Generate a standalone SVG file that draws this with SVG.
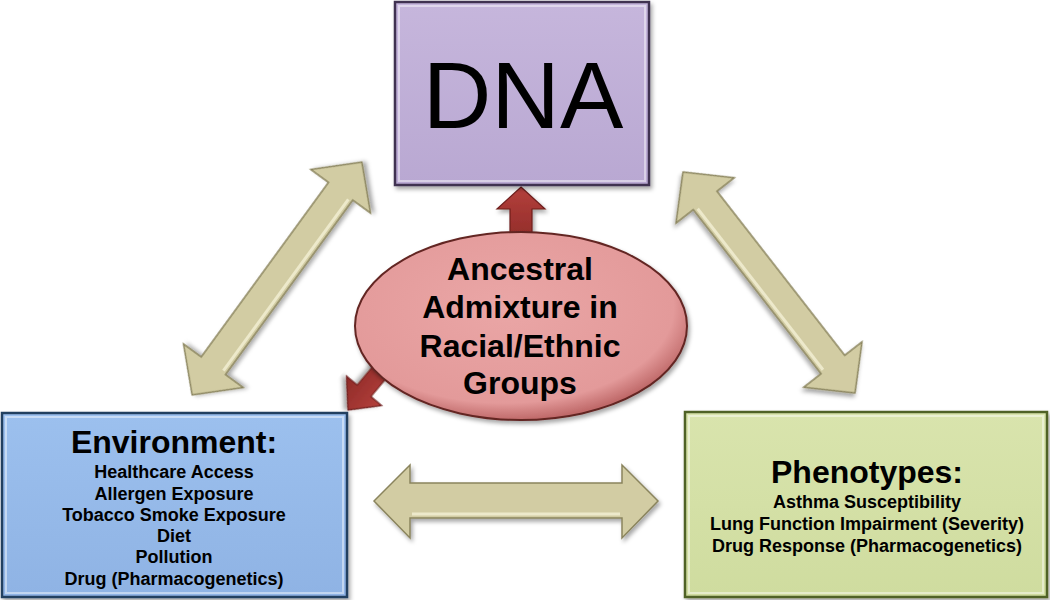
<svg xmlns="http://www.w3.org/2000/svg" width="1050" height="600" viewBox="0 0 1050 600">
<defs>
<linearGradient id="gDna" x1="0" y1="0" x2="0" y2="1"><stop offset="0" stop-color="#c6b6dc"/><stop offset="1" stop-color="#b9a8d2"/></linearGradient>
<linearGradient id="gEnv" x1="0" y1="0" x2="0" y2="1"><stop offset="0" stop-color="#9cc0ee"/><stop offset="1" stop-color="#8fb3e4"/></linearGradient>
<linearGradient id="gPhe" x1="0" y1="0" x2="0" y2="1"><stop offset="0" stop-color="#d9e4ad"/><stop offset="1" stop-color="#cfdc9f"/></linearGradient>
<radialGradient id="gEll" cx="0.45" cy="0.4" r="0.6"><stop offset="0" stop-color="#eaa6a6"/><stop offset="0.85" stop-color="#e39a9a"/><stop offset="1" stop-color="#c06a6a"/></radialGradient>
<linearGradient id="gRed" x1="0" y1="0" x2="0" y2="1"><stop offset="0" stop-color="#b4403c"/><stop offset="1" stop-color="#8e2a27"/></linearGradient>
<filter id="sh" x="-10%" y="-10%" width="120%" height="120%"><feDropShadow dx="2" dy="3" stdDeviation="2" flood-color="#000" flood-opacity="0.35"/></filter>
</defs>
<style>
.box{stroke-width:2.5}
.bev{fill:none;stroke:#ffffff;stroke-opacity:0.45;stroke-width:2}
.beige{fill:#d2cca3;stroke:#8a845d;stroke-width:1.5;stroke-linejoin:miter}
.hl{stroke:#f4f1d6;stroke-width:3;opacity:0.8}
.red{fill:url(#gRed);stroke:#6e1e1c;stroke-width:1.2}
.t{font-family:"Liberation Sans",Arial,sans-serif;fill:#000;text-anchor:middle}
.b{font-weight:bold}
</style>

<g id="connectors">
<g id="arrow-env-dna" transform="translate(277,278.5) rotate(-53.9)">
<polygon class="beige" filter="url(#sh)" points="-144,0 -108,-37 -108,-15 108,-15 108,-37 144,0 108,37 108,15 -108,15 -108,37"/>
<line class="hl" x1="-106" y1="11" x2="106" y2="11"/>
</g>
<g id="arrow-dna-phe" transform="translate(769,282.5) rotate(52.1)">
<polygon class="beige" filter="url(#sh)" points="-140,0 -104,-37 -104,-15 104,-15 104,-37 140,0 104,37 104,15 -104,15 -104,37"/>
<line class="hl" x1="-102" y1="11" x2="102" y2="11"/>
</g>
<g id="arrow-env-phe">
<polygon class="beige" filter="url(#sh)" points="374,501 410,465 410,483 622,483 622,465 658,501 622,538 622,518 410,518 410,538"/>
<line class="hl" x1="412" y1="514" x2="620" y2="514"/>
</g>
<g id="arrow-anc-dna">
<polygon class="red" filter="url(#sh)" points="521,187 545,209 532,209 532,245 510,245 510,209 497,209"/>
</g>
<g id="arrow-anc-env" transform="translate(348,410) rotate(130)">
<polygon class="red" filter="url(#sh)" points="0,0 -25,-23 -25,-9 -70,-9 -70,9 -25,9 -25,23"/>
</g>
</g>

<g id="dna">
<rect class="box" x="395" y="2" width="254" height="183" fill="url(#gDna)" stroke="#3f3151" filter="url(#sh)"/>
<rect class="bev" x="399" y="6" width="246" height="175"/>
<text class="t" x="523" y="128" font-size="95">DNA</text>
</g>

<g id="ancestral">
<ellipse cx="521" cy="326" rx="166" ry="94" fill="url(#gEll)" stroke="#632523" stroke-width="2" filter="url(#sh)"/>
<text class="t b" font-size="32" x="520" y="280">Ancestral</text>
<text class="t b" font-size="32" x="520" y="318">Admixture in</text>
<text class="t b" font-size="32" x="520" y="357">Racial/Ethnic</text>
<text class="t b" font-size="32" x="520" y="394">Groups</text>
</g>

<g id="environment">
<rect class="box" x="2" y="413" width="345" height="184" fill="url(#gEnv)" stroke="#243f60" filter="url(#sh)"/>
<rect class="bev" x="6" y="417" width="337" height="176"/>
<text class="t b" font-size="32" x="174" y="453">Environment:</text>
<text class="t b" font-size="18" x="174" y="478">Healthcare Access</text>
<text class="t b" font-size="18" x="174" y="500">Allergen Exposure</text>
<text class="t b" font-size="18" x="174" y="521">Tobacco Smoke Exposure</text>
<text class="t b" font-size="18" x="174" y="542">Diet</text>
<text class="t b" font-size="18" x="174" y="563">Pollution</text>
<text class="t b" font-size="18" x="174" y="585">Drug (Pharmacogenetics)</text>
</g>

<g id="phenotypes">
<rect class="box" x="685" y="412" width="362" height="185" fill="url(#gPhe)" stroke="#4f6228" filter="url(#sh)"/>
<rect class="bev" x="689" y="416" width="354" height="177"/>
<text class="t b" font-size="32" x="867" y="483">Phenotypes:</text>
<text class="t b" font-size="18" x="867" y="508">Asthma Susceptibility</text>
<text class="t b" font-size="18" x="867" y="530">Lung Function Impairment (Severity)</text>
<text class="t b" font-size="18" x="867" y="552">Drug Response (Pharmacogenetics)</text>
</g>
</svg>
